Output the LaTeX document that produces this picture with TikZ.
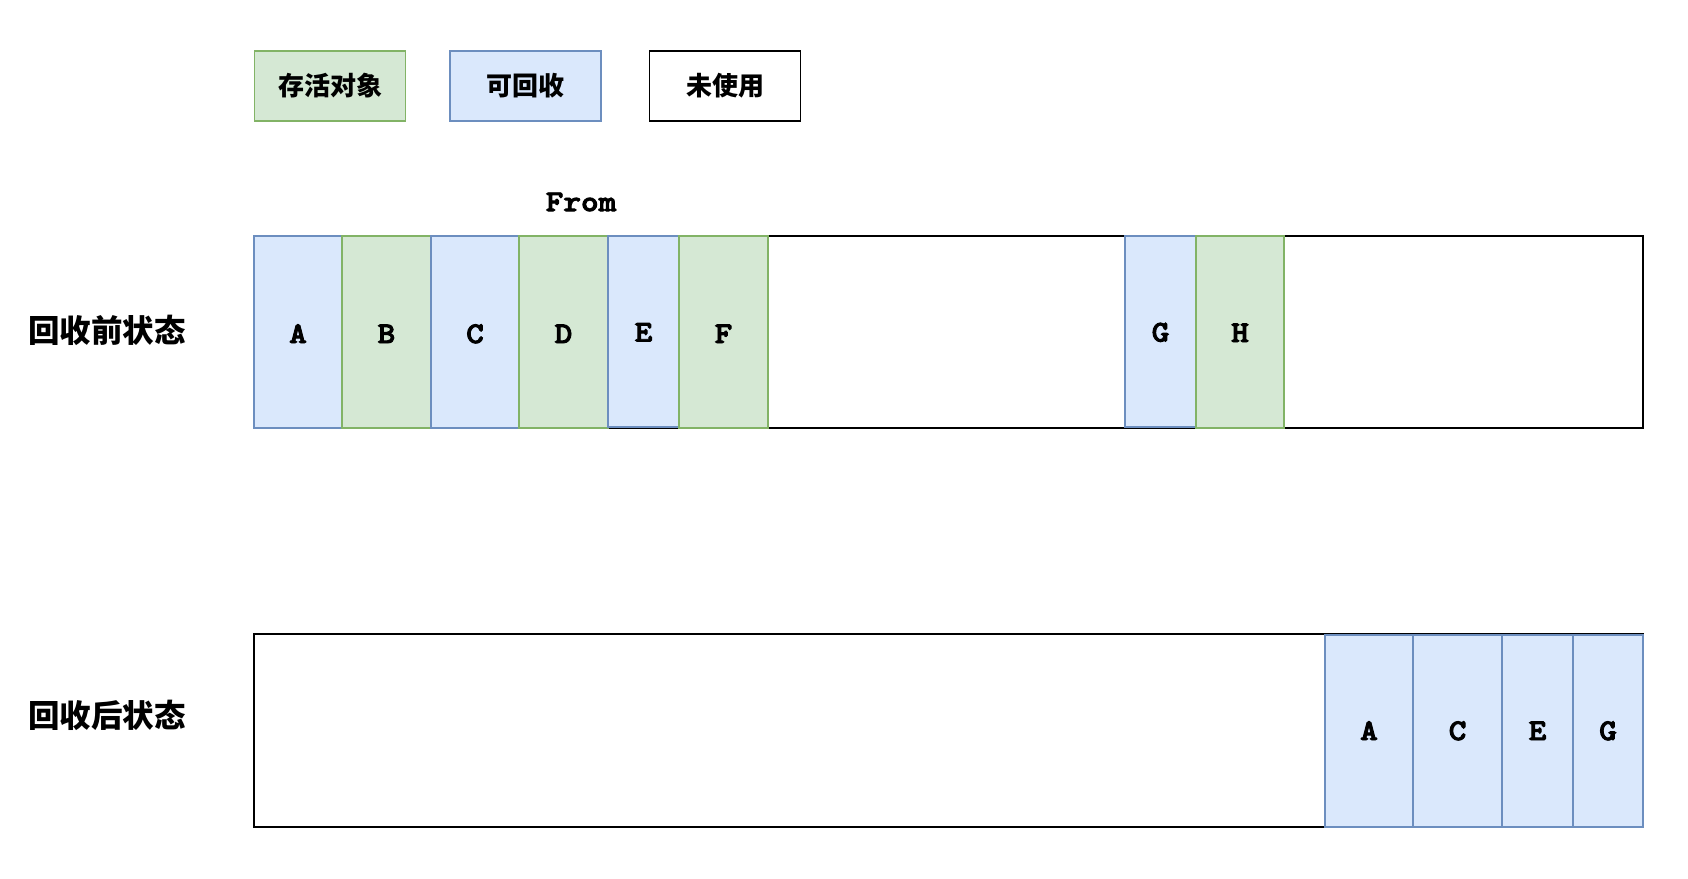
\documentclass[tikz,border=0pt]{standalone}
\usepackage{fontspec}
\newfontfamily\cjk{Noto Sans CJK SC}
\newfontfamily\monob{lmmonolt10-bold.otf}[FakeBold=3.2, FakeStretch=1.12]
\definecolor{gfill}{HTML}{D5E8D4}
\definecolor{gline}{HTML}{82B366}
\definecolor{bfill}{HTML}{DAE8FC}
\definecolor{bline}{HTML}{6C8EBF}
\tikzset{
  cell/.style={rectangle, inner sep=0pt, outer sep=0pt, line width=1.6pt, font=\monob\fontsize{30}{30}\selectfont},
  live/.style={cell, draw=gline, fill=gfill},
  dead/.style={cell, draw=bline, fill=bfill},
  bar/.style={rectangle, draw=black, line width=2pt, fill=white, inner sep=0pt, outer sep=0pt},
  legend/.style={rectangle, line width=1.6pt, inner sep=0pt, minimum width=151, minimum height=70, font=\cjk\bfseries\fontsize{26}{26}\selectfont},
  side/.style={font=\cjk\bfseries\fontsize{31.5}{31.5}\selectfont, inner sep=0pt}
}
\begin{document}
\begin{tikzpicture}[x=1pt,y=-1pt]
\useasboundingbox (0,0) rectangle (1688,878);
% legend
\node[legend, draw=gline, fill=gfill] (lg1) at (330,86) {存活对象};
\node[legend, draw=bline, fill=bfill] (lg2) at (525.5,86) {可回收};
\node[legend, draw=black, fill=white] (lg3) at (725,86) {未使用};
% title
\node[font=\monob\fontsize{30}{30}\selectfont, inner sep=0pt] (from) at (581,202) {From};
% side labels
\node[side] (before) at (107,330) {回收前状态};
\node[side] (after) at (107,715) {回收后状态};
% top bar
\node[bar, minimum width=1389, minimum height=192] (top) at (948.5,332) {};
\node[dead, minimum width=88, minimum height=192] (tA) at (298,332) {\raisebox{-11pt}[0pt][0pt]{A}};
\node[live, minimum width=89, minimum height=192] (tB) at (386.5,332) {\raisebox{-11pt}[0pt][0pt]{B}};
\node[dead, minimum width=88, minimum height=192] (tC) at (475,332) {\raisebox{-11pt}[0pt][0pt]{C}};
\node[live, minimum width=89, minimum height=192] (tD) at (563.5,332) {\raisebox{-11pt}[0pt][0pt]{D}};
\node[dead, minimum width=71, minimum height=191] (tE) at (643.5,331.5) {\raisebox{-10pt}[0pt][0pt]{E}};
\node[live, minimum width=89, minimum height=192] (tF) at (723.5,332) {\raisebox{-11pt}[0pt][0pt]{F}};
\node[dead, minimum width=71, minimum height=191] (tG) at (1160.5,331.5) {\raisebox{-10pt}[0pt][0pt]{G}};
\node[live, minimum width=88, minimum height=192] (tH) at (1240,332) {\raisebox{-10pt}[0pt][0pt]{H}};
% bottom bar
\node[bar, minimum width=1389, minimum height=193] (bot) at (948.5,730.5) {};
\node[dead, minimum width=88, minimum height=192] (bA) at (1369,731) {\raisebox{-9pt}[0pt][0pt]{A}};
\node[dead, minimum width=89, minimum height=192] (bC) at (1457.5,731) {\raisebox{-9pt}[0pt][0pt]{C}};
\node[dead, minimum width=71, minimum height=192] (bE) at (1537.5,731) {\raisebox{-9pt}[0pt][0pt]{E}};
\node[dead, minimum width=70, minimum height=192] (bG) at (1608,731) {\raisebox{-9pt}[0pt][0pt]{G}};
\end{tikzpicture}
\end{document}
